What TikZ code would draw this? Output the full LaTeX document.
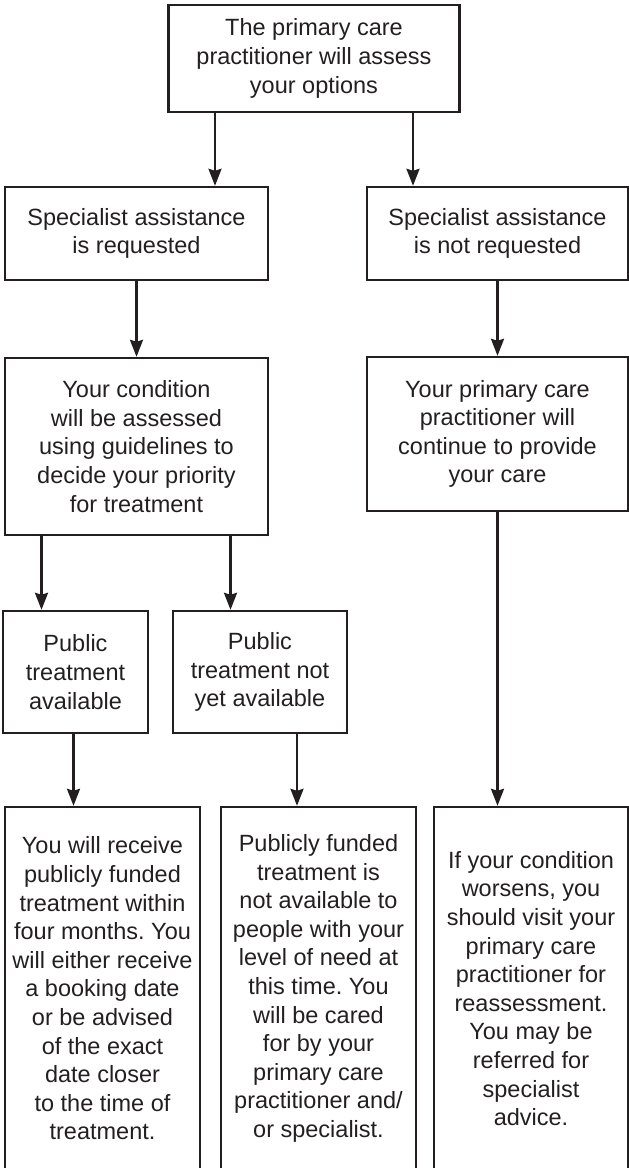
\documentclass[tikz,border=0pt]{standalone}
\usepackage{fontspec}
\setmainfont{Liberation Sans}
\usepackage{tikz}
\usetikzlibrary{arrows.meta}
\definecolor{ink}{HTML}{231F20}
\frenchspacing
\tikzset{
  box/.style={draw=ink, line width=2.4pt, inner sep=0pt, align=center,
              text=ink, font=\fontsize{23.5}{28.6}\selectfont},
  arr/.style={draw=ink, line width=2.4pt,
              -{Stealth[length=17pt, width=13pt, inset=2pt]}}
}

\begin{document}
\begin{tikzpicture}[x=1pt, y=-1pt]
  \useasboundingbox (0, 0) rectangle (629, 1168);
  \def\hb{93}
  \def\wb{195}
  % first row
  \node [box, minimum width=291pt, minimum height=107pt] (assess) at (314, 58.5)
        {The primary care\\practitioner will assess\\your options};
  % second row
  \node [box, minimum width=263pt, minimum height=\hb pt] (req) at (136.5, 233.5)
        {Specialist assistance\\is requested};
  \node [box, minimum width=261pt, minimum height=\hb pt] (notreq) at (497.5, 233.5)
        {Specialist assistance\\is not requested};
  % third row
  \node [box, minimum width=263pt, minimum height=177pt] (cond) at (136.5, 446.5)
        {Your condition\\will be assessed\\using guidelines to\\decide your priority\\for treatment};
  \node [box, minimum width=261pt, minimum height=154pt] (care) at (497.5, 434)
        {Your primary care\\practitioner will\\continue to provide\\your care};
  % fourth row
  \node [box, minimum width=145pt, minimum height=122pt] (avail) at (75.5, 672)
        {Public\\treatment\\available};
  \node [box, minimum width=174pt, minimum height=122pt] (notyet) at (260, 672)
        {Public\\treatment not\\yet available};
  % last row, cut by the page edge
  \node [box, minimum width=\wb pt, minimum height=363pt] (funded) at (102.5, 988.5)
        {You will receive\\publicly funded\\treatment within\\four months. You\\will either receive\\a booking date\\or be advised\\of the exact\\date closer\\to the time of\\treatment.};
  \node [box, minimum width=\wb pt, minimum height=363pt] (notavail) at (318.5, 988.5)
        {Publicly funded\\treatment is\\not available to\\people with your\\level of need at\\this time. You\\will be cared\\for by your\\primary care\\practitioner and/\\or specialist.};
  \node [box, minimum width=194pt, minimum height=363pt] (worse) at (531, 988.5)
        {If your condition\\worsens, you\\should visit your\\primary care\\practitioner for\\reassessment.\\You may be\\referred for\\specialist\\advice.};
  % arrows
  \draw [arr] ([xshift=-99pt]assess.south) -- ([xshift=-99pt]assess.south |- req.north);
  \draw [arr] ([xshift=99pt]assess.south) -- ([xshift=99pt]assess.south |- notreq.north);
  \draw [arr] (req) -- (cond);
  \draw [arr] (notreq) -- (care);
  \draw [arr] ([xshift=-95pt]cond.south) -- ([xshift=-95pt]cond.south |- avail.north);
  \draw [arr] ([xshift=94pt]cond.south) -- ([xshift=94pt]cond.south |- notyet.north);
  \draw [arr] ([xshift=-2pt]avail.south) -- ([xshift=-2pt]avail.south |- funded.north);
  \draw [arr] ([xshift=37pt]notyet.south) -- ([xshift=37pt]notyet.south |- notavail.north);
  \draw [arr] (care.south) -- (care.south |- worse.north);
\end{tikzpicture}
\end{document}
